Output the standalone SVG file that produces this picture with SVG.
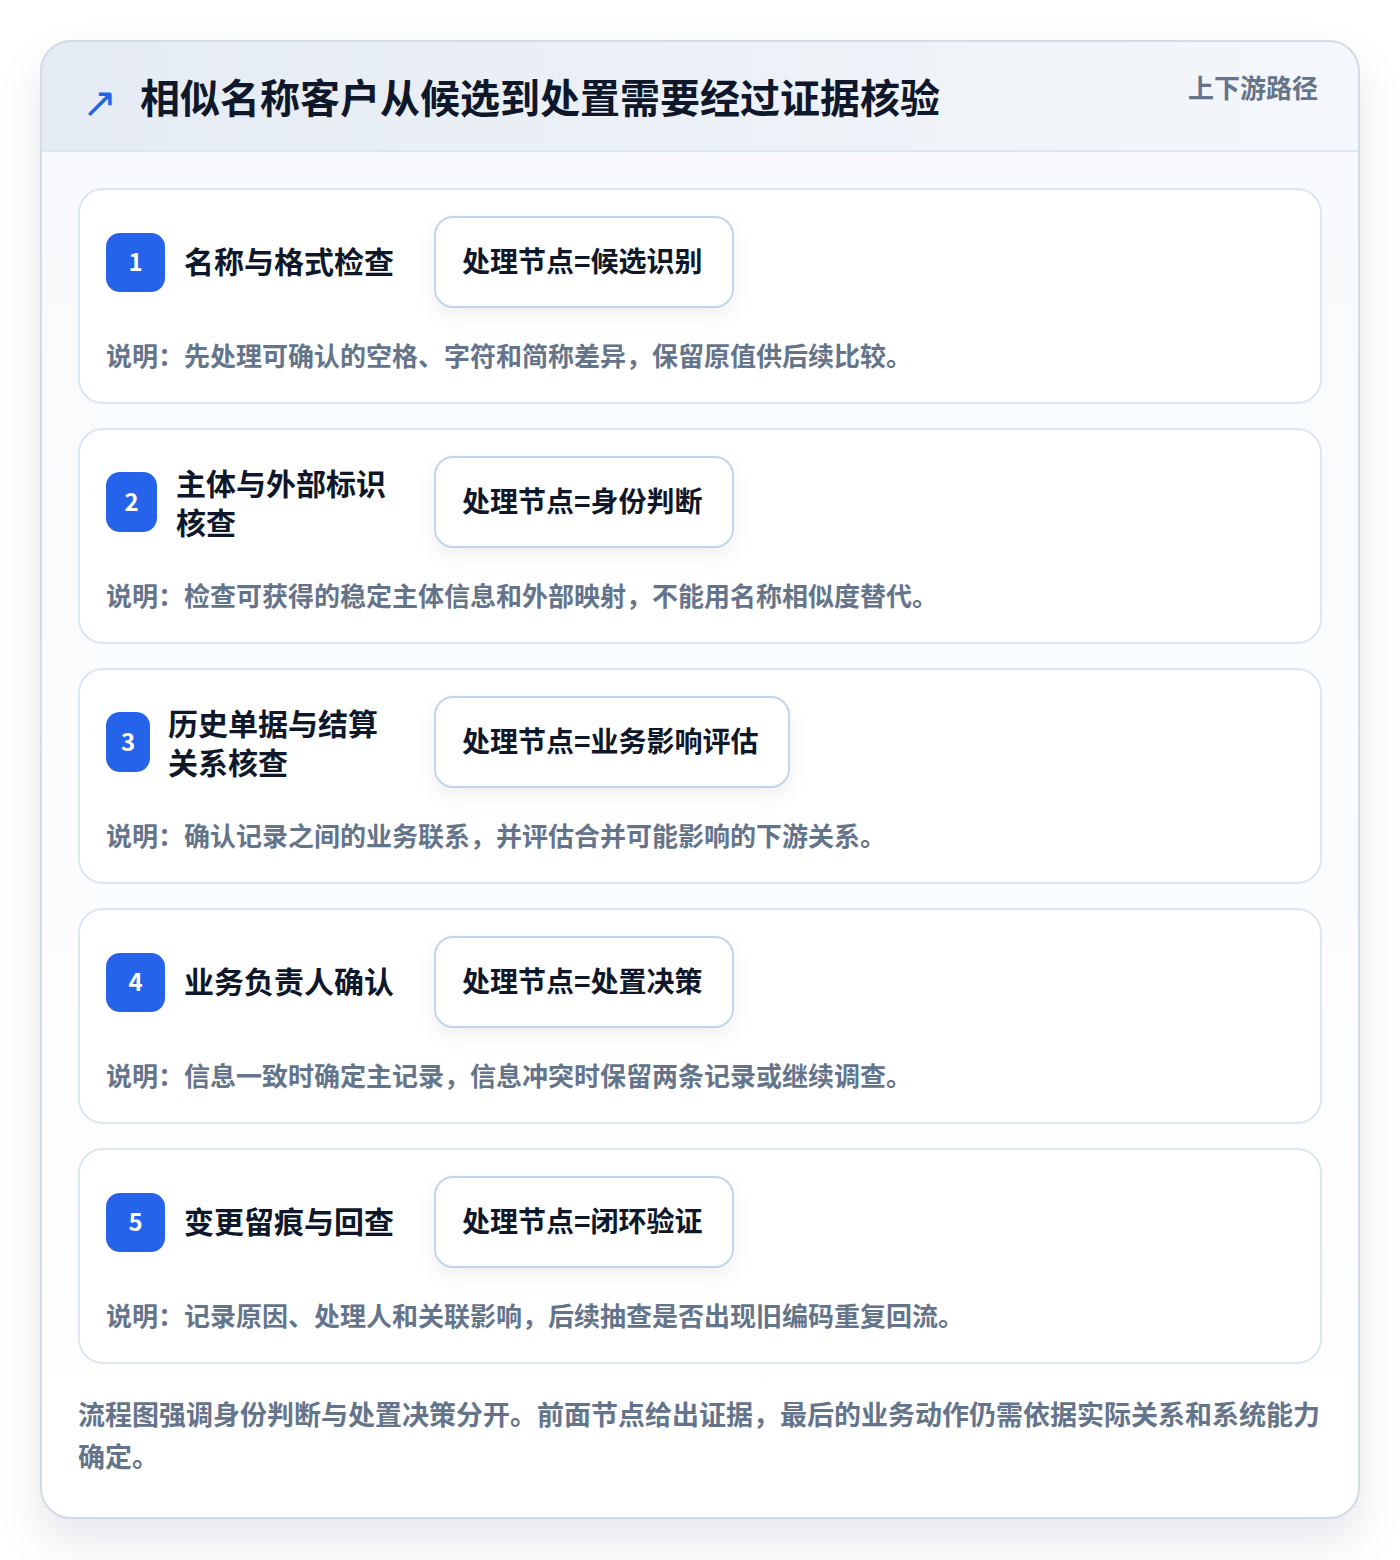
<svg xmlns="http://www.w3.org/2000/svg" width="1400" height="1560" viewBox="0 0 1400 1560">
<defs>
<linearGradient id="hdr" x1="0" y1="0" x2="1" y2="0">
<stop offset="0" stop-color="#e5ebf3"/>
<stop offset="1" stop-color="#f4f7fb"/>
</linearGradient>
<linearGradient id="body" x1="0" y1="0" x2="0" y2="1">
<stop offset="0" stop-color="#f7f9fc"/>
<stop offset="1" stop-color="#ffffff"/>
</linearGradient>
<filter id="outerShadow" x="-10%" y="-10%" width="120%" height="120%">
<feDropShadow dx="0" dy="22" stdDeviation="22" flood-color="#0f172a" flood-opacity="0.10"/>
</filter>
<filter id="pillShadow" x="-20%" y="-30%" width="140%" height="170%">
<feDropShadow dx="0" dy="8" stdDeviation="9" flood-color="#0f172a" flood-opacity="0.06"/>
</filter>
<clipPath id="outerClip"><rect x="41" y="41" width="1318" height="1477" rx="30"/></clipPath>
</defs>
<style>
text{font-family:"Noto Sans CJK SC","Noto Sans",sans-serif;font-weight:700}
.title{font-size:40px;fill:#0f172a}
.tag{font-size:26px;fill:#64748b}
.card{fill:#ffffff;stroke:#dbe7f5;stroke-width:2}
.badge{fill:#2563eb}
.num{font-size:24px;fill:#ffffff;text-anchor:middle}
.ntitle{font-size:30px;fill:#0f172a}
.pill{fill:#ffffff;stroke:#bfd5f0;stroke-width:2}
.ptext{font-size:28px;fill:#0f172a}
.desc{font-size:26px;fill:#64748b}
.foot{font-size:27px;fill:#64748b}
</style>
<rect width="1400" height="1560" fill="#ffffff"/>
<g id="frame">
<rect x="41" y="41" width="1318" height="1477" rx="30" fill="url(#body)" filter="url(#outerShadow)"/>
<g clip-path="url(#outerClip)">
<rect x="41" y="41" width="1318" height="110" fill="url(#hdr)"/>
<line x1="41" y1="151" x2="1359" y2="151" stroke="#dbe7f5" stroke-width="2"/>
</g>
<rect x="41" y="41" width="1318" height="1477" rx="30" fill="none" stroke="#d3dbe6" stroke-width="2"/>
</g>
<g id="header">
<text x="82" y="117" style="font-family:'DejaVu Sans',sans-serif;font-size:42px;font-weight:400;fill:#2563eb">↗</text>
<text class="title" x="140" y="113">相似名称客户从候选到处置需要经过证据核验</text>
<text class="tag" x="1318" y="98" text-anchor="end">上下游路径</text>
</g>
<g id="connectors"></g>
<g id="node1">
<rect class="card" x="79" y="189" width="1242" height="214" rx="24"/>
<rect class="badge" x="106" y="233" width="59" height="59" rx="14"/>
<text class="num" x="135.5" y="271">1</text>
<text class="ntitle" x="184" y="273">名称与格式检查</text>
<rect class="pill" x="435" y="217" width="298" height="90" rx="18" filter="url(#pillShadow)"/>
<text class="ptext" x="462" y="272">处理节点=候选识别</text>
<text class="desc" x="106" y="366">说明：先处理可确认的空格、字符和简称差异，保留原值供后续比较。</text>
</g>
<g id="node2">
<rect class="card" x="79" y="429" width="1242" height="214" rx="24"/>
<rect class="badge" x="106" y="472" width="51" height="60" rx="14"/>
<text class="num" x="131.5" y="511">2</text>
<text class="ntitle" x="176" y="495">主体与外部标识</text>
<text class="ntitle" x="176" y="534">核查</text>
<rect class="pill" x="435" y="457" width="298" height="90" rx="18" filter="url(#pillShadow)"/>
<text class="ptext" x="462" y="512">处理节点=身份判断</text>
<text class="desc" x="106" y="606">说明：检查可获得的稳定主体信息和外部映射，不能用名称相似度替代。</text>
</g>
<g id="node3">
<rect class="card" x="79" y="669" width="1242" height="214" rx="24"/>
<rect class="badge" x="106" y="712" width="44" height="60" rx="14"/>
<text class="num" x="128" y="751">3</text>
<text class="ntitle" x="168" y="735">历史单据与结算</text>
<text class="ntitle" x="168" y="774">关系核查</text>
<rect class="pill" x="435" y="697" width="354" height="90" rx="18" filter="url(#pillShadow)"/>
<text class="ptext" x="462" y="752">处理节点=业务影响评估</text>
<text class="desc" x="106" y="846">说明：确认记录之间的业务联系，并评估合并可能影响的下游关系。</text>
</g>
<g id="node4">
<rect class="card" x="79" y="909" width="1242" height="214" rx="24"/>
<rect class="badge" x="106" y="953" width="59" height="59" rx="14"/>
<text class="num" x="135.5" y="991">4</text>
<text class="ntitle" x="184" y="993">业务负责人确认</text>
<rect class="pill" x="435" y="937" width="298" height="90" rx="18" filter="url(#pillShadow)"/>
<text class="ptext" x="462" y="992">处理节点=处置决策</text>
<text class="desc" x="106" y="1086">说明：信息一致时确定主记录，信息冲突时保留两条记录或继续调查。</text>
</g>
<g id="node5">
<rect class="card" x="79" y="1149" width="1242" height="214" rx="24"/>
<rect class="badge" x="106" y="1193" width="59" height="59" rx="14"/>
<text class="num" x="135.5" y="1231">5</text>
<text class="ntitle" x="184" y="1233">变更留痕与回查</text>
<rect class="pill" x="435" y="1177" width="298" height="90" rx="18" filter="url(#pillShadow)"/>
<text class="ptext" x="462" y="1232">处理节点=闭环验证</text>
<text class="desc" x="106" y="1326">说明：记录原因、处理人和关联影响，后续抽查是否出现旧编码重复回流。</text>
</g>
<g id="footer">
<text class="foot" x="78" y="1425">流程图强调身份判断与处置决策分开。前面节点给出证据，最后的业务动作仍需依据实际关系和系统能力</text>
<text class="foot" x="78" y="1467">确定。</text>
</g>
</svg>
